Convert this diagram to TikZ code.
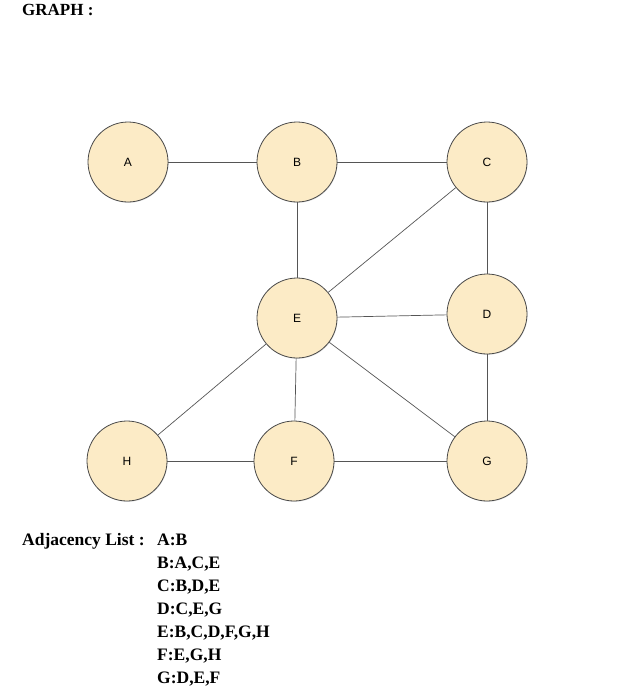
\documentclass[tikz,border=0pt]{standalone}
\usepackage{fontspec}
\setmainfont{Liberation Serif}
\newfontfamily\labelfont{Liberation Sans}
\usetikzlibrary{shadows}
\definecolor{vertexfill}{HTML}{FCEBC6}
\definecolor{vertexline}{HTML}{4A4A4A}
\definecolor{edgeline}{HTML}{555555}
\begin{document}
\begin{tikzpicture}[x=1pt,y=-1pt,
  vertex/.style={circle,draw=vertexline,line width=0.8pt,fill=vertexfill,
    minimum size=80pt,inner sep=0pt,font=\labelfont\fontsize{12}{14}\selectfont,
    drop shadow={shadow xshift=0.6pt,shadow yshift=-0.8pt,opacity=0.25}},
  edge/.style={draw=edgeline,line width=0.7pt},
  heading/.style={font=\bfseries\fontsize{17}{20}\selectfont,anchor=base west,inner sep=0pt},
  listtext/.style={font=\bfseries\fontsize{17.5}{20}\selectfont,anchor=base west,inner sep=0pt}]
\useasboundingbox (0,0) rectangle (637,688);

\node[heading] (title) at (22,15) {GRAPH :};

% vertices
\node[vertex] (A) at (128,162) {A};
\node[vertex] (B) at (297,162) {B};
\node[vertex] (C) at (487,162) {C};
\node[vertex] (E) at (297,318) {E};
\node[vertex] (D) at (487,314) {D};
\node[vertex] (H) at (127,461) {H};
\node[vertex] (F) at (294,461) {F};
\node[vertex] (G) at (487,461) {G};

% edges
\draw[edge] (A) -- (B);
\draw[edge] (B) -- (C);
\draw[edge] (B) -- (E);
\draw[edge] (C) -- (E);
\draw[edge] (C) -- (D);
\draw[edge] (E) -- (D);
\draw[edge] (D) -- (G);
\draw[edge] (E) -- (H);
\draw[edge] (E) -- (F);
\draw[edge] (E) -- (G);
\draw[edge] (H) -- (F);
\draw[edge] (F) -- (G);

% adjacency list
\node[listtext] (adjhead) at (22,545) {Adjacency List :};
\node[listtext] (la) at (157,545) {A:B};
\node[listtext] (lb) at (157,568) {B:A,C,E};
\node[listtext] (lc) at (157,591) {C:B,D,E};
\node[listtext] (ld) at (157,614) {D:C,E,G};
\node[listtext] (le) at (157,637) {E:B,C,D,F,G,H};
\node[listtext] (lf) at (157,660) {F:E,G,H};
\node[listtext] (lg) at (157,683) {G:D,E,F};
\end{tikzpicture}
\end{document}
